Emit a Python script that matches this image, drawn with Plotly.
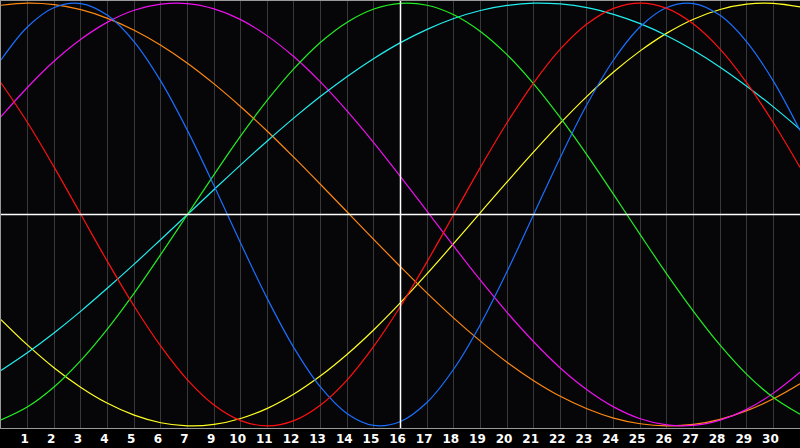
import plotly.graph_objects as go

# days along the bottom; gridline 8 is labelled "9" in the original
days = list(range(0, 31))
tick_days = list(range(1, 30))
tick_labels = ['1', '2', '3', '4', '5', '6', '7', '9', '10', '11', '12', '13', '14', '15',
               '16', '17', '18', '19', '20', '21', '22', '23', '24', '25', '26', '27', '28',
               '29', '30']

# cycle values, one per day (day 0 .. day 30)
red = [0.623, 0.434, 0.223, 0.0, -0.223, -0.434, -0.623, -0.782, -0.901, -0.975, -1.0,
       -0.975, -0.901, -0.782, -0.623, -0.434, -0.223, 0.0, 0.223, 0.434, 0.623, 0.782,
       0.901, 0.975, 1.0, 0.975, 0.901, 0.782, 0.623, 0.434, 0.223]
blue = [0.731, 0.888, 0.979, 0.998, 0.942, 0.817, 0.631, 0.398, 0.136, -0.136, -0.398,
        -0.631, -0.817, -0.942, -0.998, -0.979, -0.888, -0.731, -0.520, -0.270, 0.0, 0.270,
        0.520, 0.731, 0.888, 0.979, 0.998, 0.942, 0.817, 0.631, 0.398]
green = [-0.972, -0.910, -0.815, -0.690, -0.541, -0.372, -0.189, 0.0, 0.189, 0.372, 0.541,
         0.690, 0.815, 0.910, 0.972, 0.999, 0.990, 0.945, 0.866, 0.756, 0.618, 0.458, 0.282,
         0.095, -0.095, -0.282, -0.458, -0.618, -0.756, -0.866, -0.945]
cyan = [-0.738, -0.653, -0.559, -0.457, -0.348, -0.235, -0.118, 0.0, 0.118, 0.235, 0.348,
        0.457, 0.559, 0.653, 0.738, 0.813, 0.876, 0.927, 0.965, 0.989, 1.0, 0.996, 0.979,
        0.947, 0.903, 0.846, 0.777, 0.697, 0.607, 0.509, 0.403]
magenta = [0.463, 0.602, 0.726, 0.829, 0.910, 0.966, 0.995, 0.998, 0.973, 0.922, 0.845,
           0.746, 0.626, 0.489, 0.339, 0.179, 0.015, -0.150, -0.311, -0.463, -0.602, -0.726,
           -0.829, -0.910, -0.966, -0.995, -0.998, -0.973, -0.922, -0.845, -0.746]
orange = [0.990, 1.0, 0.993, 0.969, 0.928, 0.872, 0.801, 0.716, 0.618, 0.510, 0.394, 0.270,
          0.142, 0.012, -0.119, -0.247, -0.372, -0.490, -0.599, -0.699, -0.786, -0.860,
          -0.919, -0.963, -0.990, -1.0, -0.993, -0.969, -0.928, -0.872, -0.801]
yellow = [-0.497, -0.618, -0.726, -0.818, -0.893, -0.949, -0.985, -1.0, -0.993, -0.965,
          -0.917, -0.849, -0.763, -0.661, -0.545, -0.417, -0.280, -0.137, 0.009, 0.154,
          0.296, 0.432, 0.559, 0.674, 0.774, 0.858, 0.924, 0.970, 0.995, 0.999, 0.982]

series = [
    (yellow, '#ffff22'),
    (orange, '#ff8811'),
    (magenta, '#ee11ee'),
    (cyan, '#22eeee'),
    (green, '#22ee22'),
    (blue, '#1a70ff'),
    (red, '#ff1111'),
]

fig = go.Figure()

for vals, col in series:
    fig.add_trace(go.Scatter(
        x=days, y=vals, mode='lines',
        line=dict(color=col, width=1.2, shape='spline'),
        hoverinfo='skip', showlegend=False
    ))

# white cross through the middle
fig.add_hline(y=0, line=dict(color='white', width=1.5))
fig.add_vline(x=15, line=dict(color='white', width=1.5))

fig.update_layout(
    width=800, height=448,
    margin=dict(l=1, r=0, t=1, b=20),
    paper_bgcolor='black',
    plot_bgcolor='#060609',
    xaxis=dict(
        range=[0, 30],
        tickmode='array',
        tickvals=tick_days,
        ticktext=tick_labels,
        ticks='',
        ticklabelshift=-3,
        tickfont=dict(family='DejaVu Sans', size=12, color='white', weight='bold'),
        showgrid=True, gridcolor='#383838', gridwidth=1,
        zeroline=False,
        showline=True, linecolor='#999999', linewidth=1, mirror=True,
        fixedrange=True
    ),
    yaxis=dict(
        range=[-1.01, 1.01],
        showticklabels=False, ticks='',
        showgrid=False, zeroline=False,
        showline=True, linecolor='#999999', linewidth=1,
        fixedrange=True
    ),
)

# page has a default 8px body margin, drop it so the chart fills the window
fig.write_html("out.html", config={'displayModeBar': False},
               post_script="document.body.style.margin='0';")
